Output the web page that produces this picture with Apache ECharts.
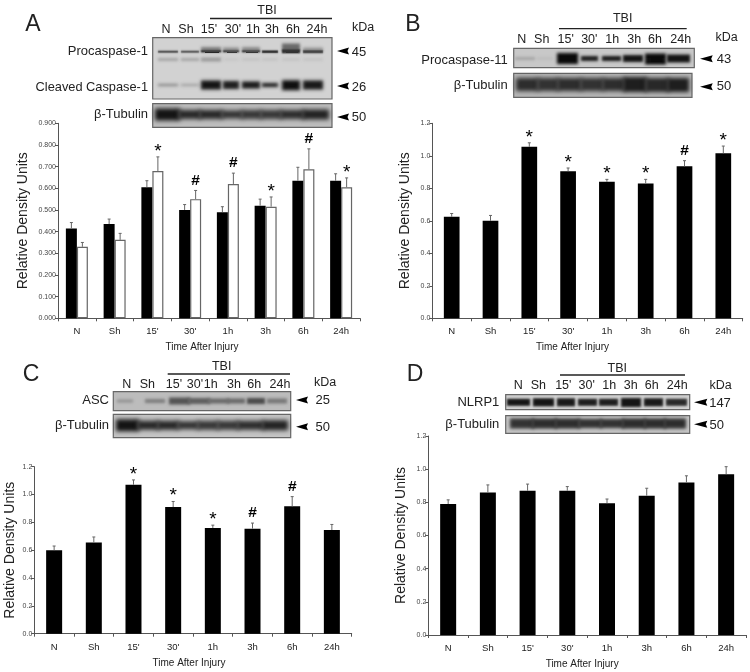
<!DOCTYPE html>
<html><head><meta charset="utf-8">
<style>html,body{margin:0;padding:0;background:#fff}#c{width:750px;height:672px}</style>
<script src="https://cdn.jsdelivr.net/npm/echarts@6/dist/echarts.min.js"></script>
</head><body><div id="c"></div>
<script>
const categories = ['N','Sh',"15'","30'",'1h','3h','6h','24h'];
const aBlack = [0.415,0.435,0.605,0.500,0.490,0.520,0.635,0.635];
const aBlackTop = [0.442,0.458,0.635,0.525,0.515,0.550,0.697,0.667];
const aWhite = [0.330,0.362,0.680,0.550,0.620,0.515,0.688,0.605];
const aWhiteTop = [0.350,0.392,0.745,0.590,0.670,0.560,0.782,0.648];
const aMarks = ['','','*','#','#','*','#','*'];
const bVals = [0.625,0.600,1.055,0.905,0.840,0.830,0.935,1.015];
const bTop = [0.645,0.633,1.080,0.925,0.855,0.855,0.970,1.060];
const bMarks = ['','','*','*','*','*','#','*'];
const cVals = [0.600,0.655,1.070,0.910,0.760,0.755,0.915,0.745];
const cTop = [0.630,0.695,1.105,0.950,0.780,0.795,0.985,0.785];
const cMarks = ['','','*','*','*','#','#',''];
const dVals = [0.790,0.860,0.870,0.870,0.795,0.840,0.920,0.970];
const dTop = [0.815,0.905,0.910,0.895,0.820,0.885,0.960,1.015];
const dMarks = ['','','','','','','',''];

const INK = '#222';
const FONT = 'Liberation Sans, Arial, sans-serif';
const gfx = [];
function txt(s,x,y,size,align){
  gfx.push({type:'text',silent:true,z:20,style:{text:s,x:x,y:y,fill:INK,font:size+'px '+FONT,textAlign:align||'center',textVerticalAlign:'middle',verticalAlign:'middle'}});
}
function box(x0,y0,x1,y1,fill){
  gfx.push({type:'rect',silent:true,z:5,shape:{x:x0,y:y0,width:x1-x0,height:y1-y0},style:{fill:fill,stroke:'#666',lineWidth:1.2}});
}
function grey(v){return 'rgb('+v+','+v+','+v+')';}
/* each band is a rectangle parked off-canvas whose shadow alone lands in the blot: a soft, blurred smear */
const OFF=3000;
function bands(lanes,cy,hs,shades,blur){
  lanes.forEach(function(l,i){
    if(!hs[i])return;
    gfx.push({type:'rect',silent:true,z:6,shape:{x:l[0]-OFF,y:cy-hs[i]/2,width:l[1]-l[0],height:hs[i]},
      style:{fill:grey(shades[i]),shadowBlur:blur||3,shadowColor:grey(shades[i]),shadowOffsetX:OFF}});
  });
}
function arrow(x0,x1,y){
  gfx.push({type:'polygon',silent:true,z:20,shape:{points:[[x0,y],[x1,y-3.5],[x1-1.5,y],[x1,y+3.5]]},style:{fill:'#000'}});
}
function header(tx,ty,lx0,lx1,ly,laneY,laneX,kx,ky){
  txt('TBI',tx,ty,12.5);
  gfx.push({type:'line',silent:true,z:20,shape:{x1:lx0,y1:ly,x2:lx1,y2:ly},style:{stroke:'#222',lineWidth:1.3}});
  categories.forEach(function(c,i){txt(c,laneX[i],laneY,12.5);});
  txt('kDa',kx,ky,12.5);
}

/* Panel A header and blots */
txt('A',33,25,23);
header(267,11,210,332,18.5,29.5,[166,186,209,233,253,272,293,317],363,28);
box(152.7,37.7,332,99,'#d2d2d2');
const la=[[158,178],[181,199],[201,221],[223,239],[242,260],[262,278],[282,300],[303,323]];
bands(la,47.5,[0,0,0,0,0,0,8,0],[0,0,0,0,0,0,105,0],3);
bands(la,49.5,[0,0,5,4,5,0,0,4],[0,0,125,140,140,0,0,150],3);
bands(la,51.7,[2,2,3.5,3.5,3.5,2.5,5,3],[60,70,40,55,55,30,50,60],1.5);
bands(la,59.5,[3,3,4,2,2,2,2,2],[165,165,155,195,190,190,190,190],3);
bands(la,85,[2,2,9,8,7,4,11,9],[120,150,20,30,25,25,15,25],3.5);
box(152.7,103.7,332,127.3,'#bdbdbd');
bands([[155,180],[178,201],[199,223],[221,243],[241,262],[260,282],[280,304],[302,329]],114.5,[12,9,9,8,9,9,9,10],[20,40,40,50,55,55,45,35],4);
txt('Procaspase-1',148,51,13,'right');
txt('Cleaved Caspase-1',148,87,12.8,'right');
txt('β-Tubulin',148,114.5,13,'right');
arrow(337,349,51);txt('45',359,52,13);
arrow(337,349,86);txt('26',359,87,13);
arrow(337,349,117);txt('50',359,117,13);

/* Panel B */
txt('B',413,25,23);
header(622.7,19,559,686.7,28.7,40,[521.7,541.7,565.7,589.3,612.3,634.3,655,680.7],726.7,38);
box(513.7,48.3,694.3,67.7,'#c8c8c8');
bands([[515,535],[537,553],[557,578],[581,598],[602,621],[623,643],[645,666],[667,690]],58.5,[3,2,11,5,5,7,12,8],[165,185,10,30,25,20,10,20],3);
box(513.7,73.3,692,97.3,'#b5b5b5');
bands([[516,539],[537,559],[557,582],[580,604],[602,625],[623,647],[645,669],[667,689]],84.5,[13,13,13,13,13,15,14,14],[45,50,45,50,45,30,40,30],4);
txt('Procaspase-11',507.7,60,13,'right');
txt('β-Tubulin',507.7,85.7,13,'right');
arrow(700,712.7,58.7);txt('43',724,59,13);
arrow(700,712.7,86.7);txt('50',724,86,13);

/* Panel C */
txt('C',31,375,23);
header(221.7,366.7,167.7,290,374,384.3,[126.7,147.3,174,195,210.7,234,254.3,280],325,382.3);
box(113.3,391.7,290.7,410.7,'#bcbcbc');
bands([[117,133],[145,165],[169,190],[188,210],[208,229],[227,245],[247,265],[267,287]],401,[3,4,7,6,5,5,6,5],[145,125,85,95,105,105,75,120],3);
box(113.3,414.3,290.7,437.7,'#c4c4c4');
bands([[116,139],[137,159],[157,179],[177,199],[197,219],[217,239],[237,264],[262,288]],425.3,[12,9,9,8,9,9,9,10],[20,40,40,50,55,55,45,35],4);
txt('ASC',109,400,13,'right');
txt('β-Tubulin',109,425.3,13,'right');
arrow(296,308,400);txt('25',322.7,400,13);
arrow(296,308,426.7);txt('50',322.7,427,13);

/* Panel D */
txt('D',415,375,23);
header(617.3,369,560,685,375,386,[518.3,538.3,563.3,586.7,609.3,630.7,651.7,677.3],720.7,386);
box(505.7,394.7,689.7,409.7,'#d4d4d4');
bands([[507,530],[533,554],[557,575],[578,597],[599,618],[621,641],[644,663],[666,687]],402.3,[7,8,8,7,7,9,8,7],[20,20,25,30,30,20,25,40],2.5);
box(505.7,415.7,689.7,433.3,'#c6c6c6');
bands([[510,534],[532,557],[555,580],[578,602],[600,624],[622,646],[644,666],[664,686]],423.5,[10,10,10,9,9,10,10,10],[50,45,45,50,50,45,45,45],3.5);
txt('NLRP1',499.3,402.7,13,'right');
txt('β-Tubulin',499.3,424.3,13,'right');
arrow(694,707.3,402.3);txt('147',720,403.3,13);
arrow(694,707.3,424.3);txt('50',716.7,425.3,13);

/* Charts */
const grids=[
 {left:58,top:123.3,width:302,height:195},
 {left:432.3,top:123.3,width:310.4,height:195},
 {left:34.3,top:466.7,width:317.4,height:167},
 {left:428.3,top:436,width:317.7,height:199}
];
const axisCol='#555';
const xAxes=[], yAxes=[];
const xPad=[14,30,8,10], xGaps=[23.5,23.5,25,24], yGaps=[28,20,17,20];
grids.forEach(function(g,i){
  xAxes.push({type:'category',gridIndex:i,data:categories,name:'Time After Injury',nameLocation:'middle',nameGap:xGaps[i],
    nameTextStyle:{fontSize:10,color:INK,fontFamily:FONT,padding:[0,xPad[i],0,0]},
    axisLine:{lineStyle:{color:axisCol,width:1}},axisTick:{show:true,length:3,alignWithLabel:false,lineStyle:{color:axisCol}},
    axisLabel:{fontSize:9.5,color:INK,fontFamily:FONT,margin:8.5,interval:0},splitLine:{show:false}});
  const isA=i===0;
  yAxes.push({type:'value',gridIndex:i,min:0,max:isA?0.9:1.2,interval:isA?0.1:0.2,name:'Relative Density Units',nameLocation:'middle',nameGap:yGaps[i],
    nameTextStyle:{fontSize:14,color:INK,fontFamily:FONT},
    axisLine:{show:true,lineStyle:{color:axisCol,width:1}},axisTick:{show:true,length:3,lineStyle:{color:axisCol}},
    axisLabel:{fontSize:7,color:'#444',fontFamily:FONT,margin:2,formatter:function(v){return v.toFixed(isA?3:1);}},splitLine:{show:false}});
});
function barS(i,vals,width,white){
  return {type:'bar',xAxisIndex:i,yAxisIndex:i,data:vals,barWidth:width,barGap:'0%',animation:false,
    itemStyle:white?{color:'#fff',borderColor:'#666',borderWidth:1.2}:{color:'#000'},z:3};
}
function errS(i,vals,tops,marks,dx){
  return {type:'custom',xAxisIndex:i,yAxisIndex:i,animation:false,z:4,silent:true,clip:false,
    data:vals.map(function(v,k){return [k,v,tops[k]];}),
    renderItem:function(params,api){
      const a=api.coord([api.value(0),api.value(1)]);
      const b=api.coord([api.value(0),api.value(2)]);
      const x=a[0]+dx;
      const ch=[
        {type:'line',shape:{x1:x,y1:a[1],x2:x,y2:b[1]},style:{stroke:'#666',lineWidth:1}},
        {type:'line',shape:{x1:x-1.5,y1:b[1],x2:x+1.5,y2:b[1]},style:{stroke:'#666',lineWidth:1}}
      ];
      const m=marks[params.dataIndex];
      if(m){
        const star=m==='*';
        ch.push({type:'text',style:{text:m,x:x,y:b[1]+(star?4:-2),fill:'#000',font:(star?'19px ':'bold 15.5px ')+FONT,textAlign:'center',textVerticalAlign:'bottom',verticalAlign:'bottom'}});
      }
      return {type:'group',children:ch};
    }};
}
const none=['','','','','','','',''];
const series=[
  barS(0,aBlack,11,false),barS(0,aWhite,11,true),
  errS(0,aBlack,aBlackTop,none,-5.5),errS(0,aWhite,aWhiteTop,aMarks,5.5),
  barS(1,bVals,15.7,false),errS(1,bVals,bTop,bMarks,0),
  barS(2,cVals,16,false),errS(2,cVals,cTop,cMarks,0),
  barS(3,dVals,16,false),errS(3,dVals,dTop,dMarks,0)
];
const chart=echarts.init(document.getElementById('c'),null,{renderer:'canvas',width:750,height:672});
chart.setOption({animation:false,backgroundColor:'#fff',tooltip:{show:false},grid:grids,xAxis:xAxes,yAxis:yAxes,series:series,graphic:{elements:gfx}});
</script></body></html>
